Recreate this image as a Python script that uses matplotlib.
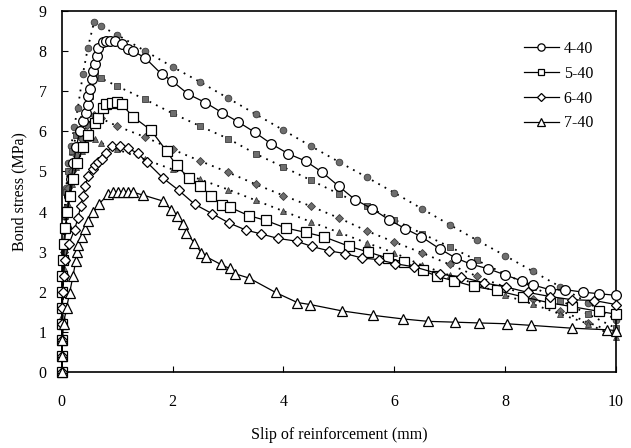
import matplotlib
matplotlib.use("Agg")
import matplotlib.pyplot as plt

# ---------------- data ----------------
# experimental series (open markers, solid line)
exp_4_40_x = [0, 0, 0, 0, 0, 0.01, 0.02, 0.03, 0.05, 0.07, 0.10, 0.13, 0.17, 0.21, 0.26, 0.32,
              0.38, 0.43, 0.47, 0.48, 0.50, 0.54, 0.57, 0.60, 0.63, 0.66, 0.75, 0.80, 0.87, 0.96,
              1.08, 1.20, 1.29, 1.50, 1.80, 1.98, 2.28, 2.59, 2.89, 3.18, 3.48, 3.78, 4.09, 4.40,
              4.70, 5.00, 5.29, 5.60, 5.90, 6.20, 6.49, 6.82, 7.11, 7.38, 7.70, 8.00, 8.30, 8.50,
              8.81, 9.09, 9.40, 9.69, 10.0]
exp_4_40_y = [0, 0.4, 0.8, 1.2, 1.6, 2.0, 2.4, 2.8, 3.2, 3.6, 4.0, 4.4, 4.8, 5.2, 5.6, 6.0,
              6.26, 6.47, 6.67, 6.88, 7.05, 7.30, 7.50, 7.68, 7.88, 8.09, 8.22, 8.26, 8.26, 8.26,
              8.17, 8.05, 8.00, 7.84, 7.43, 7.27, 6.93, 6.72, 6.47, 6.24, 5.98, 5.69, 5.44, 5.26,
              4.98, 4.63, 4.30, 4.07, 3.80, 3.57, 3.37, 3.07, 2.84, 2.69, 2.57, 2.42, 2.27, 2.17,
              2.05, 2.05, 1.99, 1.95, 1.91]

exp_5_40_x = [0, 0, 0, 0, 0, 0, 0.01, 0.02, 0.03, 0.06, 0.10, 0.15, 0.20, 0.28, 0.38, 0.47,
              0.60, 0.66, 0.75, 0.80, 0.90, 0.99, 1.08, 1.28, 1.61, 1.89, 2.07, 2.29, 2.49, 2.70,
              2.89, 3.03, 3.37, 3.68, 4.04, 4.40, 4.73, 5.19, 5.53, 5.88, 6.17, 6.52, 6.78, 7.08,
              7.44, 7.85, 8.33, 8.81, 9.20, 9.69, 10.0]
exp_5_40_y = [0, 0.4, 0.8, 1.2, 1.6, 2.0, 2.4, 2.8, 3.2, 3.6, 4.0, 4.4, 4.8, 5.2, 5.6, 5.9,
              6.22, 6.34, 6.59, 6.69, 6.72, 6.74, 6.68, 6.37, 6.03, 5.51, 5.15, 4.84, 4.65, 4.38,
              4.17, 4.11, 3.90, 3.78, 3.59, 3.48, 3.37, 3.13, 2.99, 2.84, 2.74, 2.53, 2.38, 2.27,
              2.13, 2.03, 1.87, 1.72, 1.63, 1.51, 1.44]

exp_6_40_x = [0, 0, 0, 0, 0.01, 0.02, 0.03, 0.06, 0.13, 0.23, 0.29, 0.34, 0.38, 0.42, 0.47,
              0.57, 0.60, 0.66, 0.72, 0.80, 0.90, 1.05, 1.20, 1.37, 1.53, 1.83, 2.11, 2.40, 2.71,
              3.01, 3.32, 3.60, 3.90, 4.24, 4.51, 4.82, 5.12, 5.42, 5.72, 6.01, 6.36, 6.82, 7.21,
              7.62, 8.01, 8.42, 8.81, 9.21, 9.61, 10.0]
exp_6_40_y = [0, 0.4, 0.8, 1.2, 1.6, 2.0, 2.4, 2.8, 3.2, 3.55, 3.84, 4.13, 4.38, 4.63, 4.88,
              5.05, 5.16, 5.23, 5.30, 5.45, 5.63, 5.63, 5.58, 5.45, 5.24, 4.83, 4.53, 4.18, 3.95,
              3.72, 3.54, 3.44, 3.33, 3.26, 3.13, 3.02, 2.95, 2.84, 2.80, 2.70, 2.62, 2.44, 2.37,
              2.22, 2.12, 1.98, 1.88, 1.80, 1.78, 1.68]

exp_7_40_x = [0, 0, 0.01, 0.03, 0.085, 0.14, 0.20, 0.25, 0.27, 0.29, 0.37, 0.42, 0.47, 0.57,
              0.67, 0.84, 0.93, 1.02, 1.10, 1.20, 1.29, 1.47, 1.83, 1.97, 2.07, 2.19, 2.25, 2.39,
              2.52, 2.61, 2.87, 3.03, 3.12, 3.38, 3.86, 4.25, 4.48, 5.06, 5.62, 6.16, 6.61, 7.09,
              7.53, 8.03, 8.47, 9.20, 9.84, 10.0]
exp_7_40_y = [0, 0.4, 0.8, 1.2, 1.59, 1.97, 2.38, 2.76, 3.00, 3.17, 3.37, 3.57, 3.76, 3.98,
              4.19, 4.43, 4.48, 4.49, 4.49, 4.49, 4.48, 4.41, 4.26, 4.05, 3.88, 3.68, 3.47, 3.22,
              2.97, 2.87, 2.68, 2.58, 2.45, 2.34, 1.98, 1.73, 1.68, 1.52, 1.41, 1.32, 1.26, 1.24,
              1.22, 1.20, 1.16, 1.09, 1.05, 1.03]

# predicted series (grey filled markers, dotted line)
pre_4_40_x = [0, 0.005, 0.01, 0.02, 0.03, 0.05, 0.08, 0.12, 0.17, 0.22, 0.29, 0.38, 0.47, 0.58,
              0.70, 1.0, 1.5, 2.0, 2.5, 3.0, 3.5, 4.0, 4.5, 5.0, 5.5, 6.0, 6.5, 7.0, 7.5, 8.0,
              8.5, 9.0, 9.5, 10.0]
pre_4_40_y = [0, 0.8, 1.6, 2.4, 3.2, 4.0, 4.6, 5.2, 5.63, 6.1, 6.59, 7.43, 8.09, 8.72,
              8.63, 8.41, 8.01, 7.61, 7.23, 6.83, 6.43, 6.03, 5.63, 5.24, 4.86, 4.47, 4.07, 3.67,
              3.28, 2.90, 2.51, 2.12, 1.72, 1.30]

pre_5_40_x = [0, 0.005, 0.01, 0.02, 0.03, 0.05, 0.08, 0.12, 0.18, 0.26, 0.38, 0.50, 0.60,
              0.70, 1.0, 1.5, 2.0, 2.5, 3.0, 3.5, 4.0, 4.5, 5.0, 5.5, 6.0, 6.5, 7.0, 7.5, 8.0,
              8.5, 9.0, 9.5, 10.0]
pre_5_40_y = [0, 0.8, 1.6, 2.4, 3.2, 3.9, 4.5, 5.0, 5.5, 5.9, 6.3, 6.88, 7.40,
              7.33, 7.13, 6.80, 6.45, 6.13, 5.82, 5.44, 5.11, 4.78, 4.44, 4.13, 3.80, 3.45, 3.12,
              2.78, 2.44, 2.12, 1.78, 1.44, 1.09]

pre_6_40_x = [0, 0.005, 0.01, 0.02, 0.03, 0.05, 0.08, 0.12, 0.18, 0.26, 0.36, 0.46, 0.58,
              0.70, 1.0, 1.5, 2.0, 2.5, 3.0, 3.5, 4.0, 4.5, 5.0, 5.5, 6.0, 6.5, 7.0, 7.5, 8.0,
              8.5, 9.0, 9.5, 10.0]
pre_6_40_y = [0, 0.8, 1.6, 2.4, 3.0, 3.6, 4.1, 4.6, 5.0, 5.4, 5.8, 6.15, 6.40,
              6.33, 6.13, 5.86, 5.55, 5.26, 4.98, 4.68, 4.40, 4.13, 3.84, 3.52, 3.24, 2.97, 2.68,
              2.38, 2.12, 1.83, 1.53, 1.23, 0.97]

pre_7_40_x = [0, 0.005, 0.01, 0.02, 0.03, 0.05, 0.08, 0.12, 0.18, 0.26, 0.36, 0.47, 0.60,
              0.70, 1.0, 1.5, 2.0, 2.5, 3.0, 3.5, 4.0, 4.5, 5.0, 5.5, 6.0, 6.5, 7.0, 7.5, 8.0,
              8.5, 9.0, 9.5, 10.0]
pre_7_40_y = [0, 0.8, 1.4, 2.0, 2.6, 3.2, 3.7, 4.2, 4.7, 5.1, 5.5, 5.84, 5.80,
              5.72, 5.55, 5.30, 5.05, 4.80, 4.55, 4.28, 4.01, 3.74, 3.48, 3.22, 2.97, 2.66, 2.41,
              2.18, 1.91, 1.69, 1.44, 1.20, 0.87]

labels = ["4-40", "5-40", "6-40", "7-40"]

# ---------------- plot ----------------
plt.rcParams['font.family'] = ['Liberation Serif', 'DejaVu Serif']
fig = plt.figure(figsize=(6.31, 4.48), dpi=100)
ax = fig.add_axes([0.098, 0.170, 0.878, 0.805])

exp_sets = [(exp_4_40_x, exp_4_40_y, 'o', 7.0),
            (exp_5_40_x, exp_5_40_y, 's', 6.5),
            (exp_6_40_x, exp_6_40_y, 'D', 5.0),
            (exp_7_40_x, exp_7_40_y, '^', 7.0)]
pre_sets = [(pre_4_40_x, pre_4_40_y, 'o', 4.8),
            (pre_5_40_x, pre_5_40_y, 's', 4.5),
            (pre_6_40_x, pre_6_40_y, 'D', 3.8),
            (pre_7_40_x, pre_7_40_y, '^', 5.0)]

for (px, py, m, ms) in pre_sets:
    ax.plot(px, py, linestyle=(0, (1, 3)), color='black', lw=1.3,
            marker=m, markersize=ms, markerfacecolor='#6e6e6e',
            markeredgecolor='#3a3a3a', markeredgewidth=0.6, clip_on=False, zorder=2)

handles = []
for (ex, ey, m, ms), lab in zip(exp_sets, labels):
    h, = ax.plot(ex, ey, linestyle='-', color='black', lw=0.9,
                 marker=m, markersize=ms, markerfacecolor='white',
                 markeredgecolor='black', markeredgewidth=0.9, clip_on=False,
                 zorder=3, label=lab)
    handles.append(h)

ax.set_xlim(0, 10)
ax.set_ylim(0, 9)
ax.set_xticks([0, 2, 4, 6, 8, 10])
ax.set_yticks(range(0, 10))
ax.tick_params(direction='in', length=4, width=0.8, labelsize=11.5)
ax.tick_params(axis='x', pad=16)
ax.tick_params(axis='y', pad=11)
for s in ax.spines.values():
    s.set_linewidth(1.2)

ax.set_xlabel("Slip of reinforcement (mm)", fontsize=11.5, labelpad=12)
ax.set_ylabel("Bond stress (MPa)", fontsize=11.5, labelpad=8)

leg = ax.legend(handles=handles, loc='upper right', frameon=False, fontsize=11.5,
                handlelength=2.2, handletextpad=0.3, labelspacing=0.55,
                bbox_to_anchor=(0.985, 0.957), markerscale=0.75)

fig.savefig("out.png", dpi=100)
